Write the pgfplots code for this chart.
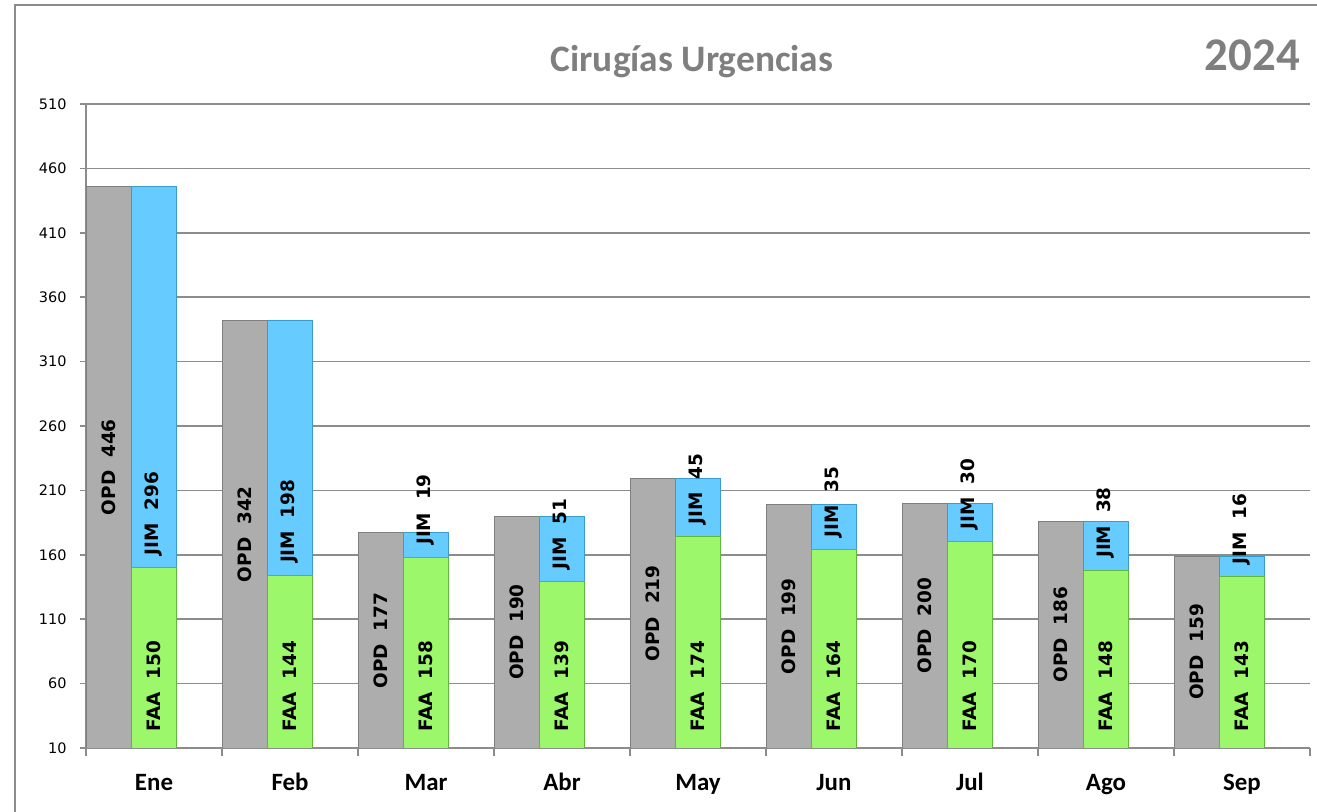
\documentclass[border=0pt]{standalone}
\usepackage{pgfplots}
\pgfplotsset{compat=1.18}
\usepackage{pgfplotstable}
\usepackage{fontspec}
\setmainfont{Carlito}
\newfontfamily\dejavu{DejaVu Sans}

\definecolor{opd}{HTML}{ADADAD}
\definecolor{opdd}{HTML}{7F7F7F}
\definecolor{faa}{HTML}{9CF86A}
\definecolor{faad}{HTML}{5FB83A}
\definecolor{jim}{HTML}{66CCFF}
\definecolor{jimd}{HTML}{3A9CCB}
\definecolor{rejilla}{HTML}{8C8C8C}
\definecolor{titulo}{HTML}{7F7F7F}

% JIM = OPD - FAA (segmento azul apilado sobre FAA)
\pgfplotstableread{
x mes opd faa jim
0 Ene 446 150 296
1 Feb 342 144 198
2 Mar 177 158 19
3 Abr 190 139 51
4 May 219 174 45
5 Jun 199 164 35
6 Jul 200 170 30
7 Ago 186 148 38
8 Sep 159 143 16
}\datos

\newcommand\lbl{\dejavu\fontsize{18.5}{20}\selectfont\bfseries}

\begin{document}
\begin{tikzpicture}
\begin{axis}[
  at={(0,0)}, anchor=south west,
  scale only axis, width=1224bp, height=644bp,
  xmin=-0.5, xmax=8.5, ymin=10, ymax=510,
  ytick={10,60,...,510},
  xtick={0,...,8},
  xticklabels={Ene,Feb,Mar,Abr,May,Jun,Jul,Ago,Sep},
  minor xtick={-0.5,0.5,...,8.5},
  major x tick style={draw=none},
  tick align=outside,
  major tick length=6bp, minor tick length=8bp,
  ymajorgrids, grid style={rejilla, line width=1.6bp},
  axis x line*=bottom, axis y line*=left,
  axis line style={rejilla, line width=1.6bp, -},
  every tick/.style={rejilla, line width=1.6bp},
  xticklabel style={font=\fontsize{25}{27}\selectfont\bfseries,
    text height=0.66em, text depth=0.2em, yshift=-26bp},
  yticklabel style={font=\dejavu\fontsize{14.5}{16}\selectfont, xshift=-10bp},
  /pgf/number format/assume math mode=true,
]
% barras
\addplot[ybar, bar width=0.33, bar shift=0pt, fill=opd, draw=opdd, line width=1bp]
  table[x expr=\thisrow{x}-0.33, y=opd] {\datos};
\addplot[ybar, bar width=0.33, bar shift=0pt, fill=jim, draw=jimd, line width=1bp]
  table[x=x, y expr=\thisrow{faa}+\thisrow{jim}] {\datos};
\addplot[ybar, bar width=0.33, bar shift=0pt, fill=faa, draw=faad, line width=1bp]
  table[x=x, y=faa] {\datos};
% etiquetas
\addplot[draw=none, mark=none, point meta=\thisrow{opd},
  nodes near coords={OPD\ \ \pgfmathprintnumber{\pgfplotspointmeta}},
  nodes near coords style={anchor=center, rotate=90, font=\lbl, text=black}]
  table[x expr=\thisrow{x}-0.33, y expr=(\thisrow{opd}+10)/2] {\datos};
\addplot[draw=none, mark=none, point meta=\thisrow{jim},
  nodes near coords={JIM\ \ \pgfmathprintnumber{\pgfplotspointmeta}},
  nodes near coords style={yshift=9bp, anchor=west, rotate=90, font=\lbl, text=black}]
  table[x=x, y=faa] {\datos};
\addplot[draw=none, mark=none, point meta=\thisrow{faa},
  nodes near coords={FAA\ \ \pgfmathprintnumber{\pgfplotspointmeta}},
  nodes near coords style={yshift=13bp, anchor=west, rotate=90, font=\lbl, text=black}]
  table[x=x, y expr=10] {\datos};
\end{axis}
\node[font=\fontsize{37.5}{40}\selectfont\bfseries, text=titulo] at (606bp,686bp) {Cirugías Urgencias};
\node[font=\fontsize{47}{50}\selectfont\bfseries, text=titulo, anchor=east, inner sep=0pt] at (1214bp,693bp) {2024};
\draw[rejilla, line width=2.5bp] (-71bp,-120bp) rectangle (1300bp,743bp);
\pgfresetboundingbox
\path[use as bounding box] (-86bp,-64bp) rectangle (1231bp,748bp);
\end{tikzpicture}
\end{document}
